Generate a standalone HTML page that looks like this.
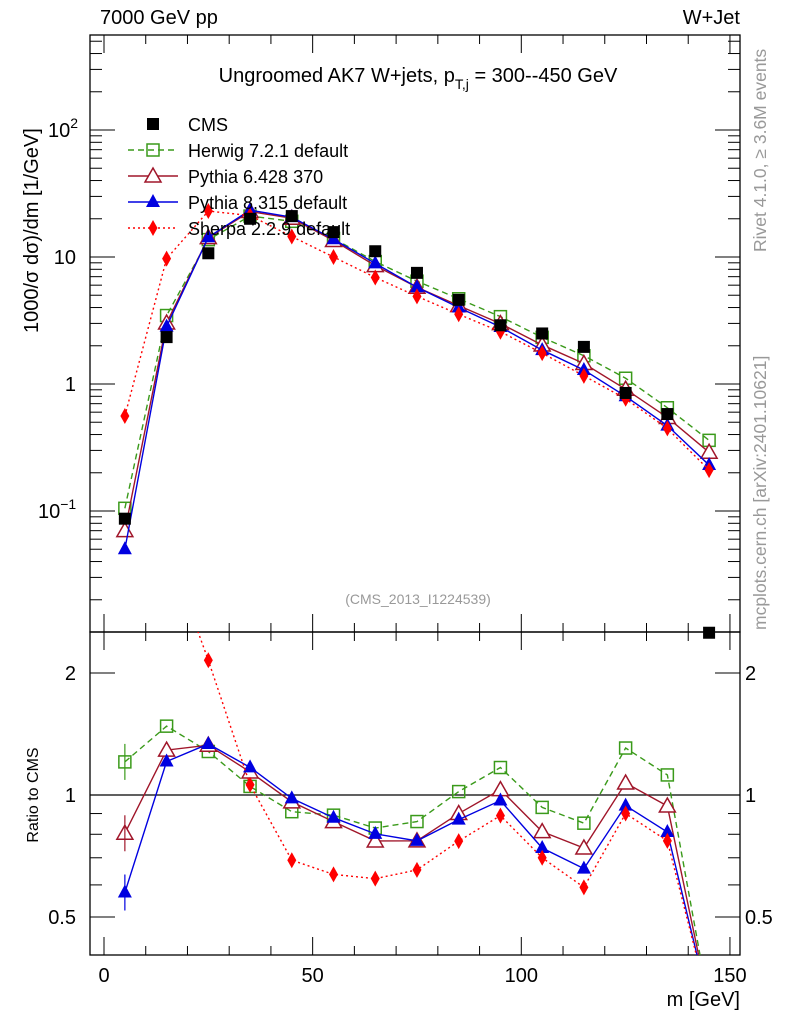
<!DOCTYPE html>
<html><head><meta charset="utf-8"><style>
body{margin:0;background:#fff;overflow:hidden;}
svg{display:block;font-family:"Liberation Sans",sans-serif;}
</style></head><body>
<svg id="c" width="786" height="1024" xmlns="http://www.w3.org/2000/svg"></svg>
<script>
const xBins=[5,15,25,35,45,55,65,75,85,95,105,115,125,135,145];
const cmsVals=[0.087,2.34,10.7,20,21,15.7,11.1,7.5,4.6,2.9,2.5,1.96,0.85,0.58,0.011];
const herwigVals=[0.105,3.46,13.7,21,19.1,14.0,9.2,6.45,4.69,3.39,2.33,1.67,1.11,0.65,0.36];
const py6Vals=[0.070,3.02,14.2,22.8,20.2,13.5,8.55,5.78,4.14,2.99,2.03,1.45,0.91,0.545,0.29];
const py8Vals=[0.050,2.83,14.3,23.4,20.6,13.8,8.9,5.78,4.0,2.81,1.85,1.29,0.80,0.47,0.23];
const sherpaVals=[0.56,9.7,23.0,21.2,14.5,10.0,6.9,4.9,3.54,2.58,1.75,1.16,0.765,0.447,0.21];
const xTicks=[0,50,100,150];
const mainTicks=[[100,"10","2"],[10,"10",""],[1,"1",""],[0.1,"10","−1"]];
const ratioTicks=[[2,"2"],[1,"1"],[0.5,"0.5"]];

const S=document.getElementById('c');const NS="http://www.w3.org/2000/svg";
function mk(tag,at,parent){const e=document.createElementNS(NS,tag);for(const k in at)e.setAttribute(k,at[k]);(parent||S).appendChild(e);return e;}
const L=90,R=740,T=35,M=632,B=955;
const X=v=>104+v*4.173;
const Y=v=>384-127*Math.log10(v);
const YR=r=>795-122*Math.log2(r);
function txt(x,y,s,size,anchor,fill,rot){const e=mk('text',{x:x,y:y,'font-size':size,'text-anchor':anchor||'start',fill:fill||'#000'});if(rot)e.setAttribute('transform',`rotate(-90 ${x} ${y})`);e.textContent=s;return e;}

let f1=mk('rect',{x:L,y:T,width:R-L,height:M-T,fill:'none',stroke:'#000','stroke-width':1.3});

let f2=mk('rect',{x:L,y:M,width:R-L,height:B-M,fill:'none',stroke:'#000','stroke-width':1.3});

let defs=mk('defs',{});
let c1=mk('clipPath',{id:'cm'},defs);mk('rect',{x:L,y:T,width:R-L,height:M-T},c1);
let c2=mk('clipPath',{id:'cr'},defs);mk('rect',{x:L,y:M,width:R-L,height:B-M},c2);

const tk=mk('g',{stroke:'#000','stroke-width':1});

for(let v=0;v<=150;v+=10){const x=X(v);const maj=v%50==0;const l=maj?18:9;
 mk('line',{x1:x,y1:T,x2:x,y2:T+l},tk);mk('line',{x1:x,y1:M,x2:x,y2:M-l},tk);
 mk('line',{x1:x,y1:M,x2:x,y2:M+l},tk);mk('line',{x1:x,y1:B,x2:x,y2:B-l},tk);}
xTicks.forEach(v=>{const t=txt(X(v),982,String(v),20,'middle');});
for(let d=-2;d<=2;d++)for(let m=1;m<=9;m++){const v=m*Math.pow(10,d);const y=Y(v);if(y<T||y>M)continue;const l=m==1?25:12;
 mk('line',{x1:L,y1:y,x2:L+l,y2:y},tk);mk('line',{x1:R,y1:y,x2:R-l,y2:y},tk);}
mainTicks.forEach(t=>{const y=Y(t[0]);const e=txt(76,y+7,t[1],20,'end');
 if(t[2]){const s=mk('tspan',{dy:-9,'font-size':14},e);s.textContent=t[2];
  e.setAttribute('text-anchor','start');e.setAttribute('x',t[2].length>1?38:48);}
 });
for(let d=-2;d<=1;d++)for(let m=1;m<=9;m++){const v=m*Math.pow(10,d);const y=YR(v);if(y<M||y>B)continue;const maj=(v==0.5||v==1||v==2);const l=maj?25:12;
 mk('line',{x1:L,y1:y,x2:L+l,y2:y},tk);mk('line',{x1:R,y1:y,x2:R-l,y2:y},tk);}
ratioTicks.forEach(t=>{const y=YR(t[0]);let a=txt(76,y+7,t[1],20,'end');
 let b=txt(745,y+7,t[1],20,'start');});
let rl=mk('line',{x1:L,y1:YR(1),x2:R,y2:YR(1),stroke:'#000','stroke-width':1.2});


const series=[
 {name:'herwig',vals:herwigVals,color:'#3a9a1a',dash:'6,4',marker:'osq'},
 {name:'pythia6',vals:py6Vals,color:'#a0162a',dash:'',marker:'otri'},
 {name:'pythia8',vals:py8Vals,color:'#0000e0',dash:'',marker:'tri'},
 {name:'sherpa',vals:sherpaVals,color:'#ff0000',dash:'2,3',marker:'dia'}];
function marker(g,type,x,y,c){
 if(type=='osq')return mk('rect',{x:x-6,y:y-6,width:12,height:12,fill:'none',stroke:c,'stroke-width':1.5},g);
 if(type=='sq')return mk('rect',{x:x-6,y:y-6,width:12,height:12,fill:c},g);
 if(type=='otri')return mk('path',{d:`M${x},${y-8}L${x+8},${y+6}L${x-8},${y+6}Z`,fill:'#fff',stroke:c,'stroke-width':1.5},g);
 if(type=='tri')return mk('path',{d:`M${x},${y-8}L${x+7},${y+5}L${x-7},${y+5}Z`,fill:c},g);
 if(type=='dia')return mk('path',{d:`M${x},${y-8}L${x+4.5},${y}L${x},${y+8}L${x-4.5},${y}Z`,fill:c},g);}
const gm=mk('g',{'clip-path':'url(#cm)'});
const gr=mk('g',{'clip-path':'url(#cr)'});
const mainMin=Math.pow(10,(384-M)/127);
series.forEach(s=>{
 const pts=xBins.map((x,i)=>[X(x),Y(s.vals[i])]);
 let p=mk('polyline',{points:pts.map(p=>p.join(',')).join(' '),fill:'none',stroke:s.color,'stroke-width':1.4,'stroke-dasharray':s.dash},gm);
 
 // CMS below visible range => ratio drawn off the bottom of the panel
 const rp=xBins.map((x,i)=>[X(x),cmsVals[i]<mainMin?B+50:YR(s.vals[i]/cmsVals[i])]);
 // clip polyline to panel
 const cl=[];for(let i=0;i<rp.length;i++){const a=rp[i];
  if(a[1]<=B&&a[1]>=M-400){cl.push(a);}else if(i>0){const b=rp[i-1];const f=(B-b[1])/(a[1]-b[1]);cl.push([b[0]+f*(a[0]-b[0]),B]);}}
 let q=mk('polyline',{points:cl.map(p=>p.join(',')).join(' '),fill:'none',stroke:s.color,'stroke-width':1.4,'stroke-dasharray':s.dash},gr);
 
 pts.forEach(p=>{let m=marker(gm,s.marker,p[0],p[1],s.color);});
 rp.forEach(p=>{if(p[1]>B||p[1]<M)return;let m=marker(gr,s.marker,p[0],p[1],s.color);});
 const e=rp[0];if(e[1]<B&&e[1]>M){let eb=mk('line',{x1:e[0],y1:e[1]-18,x2:e[0],y2:e[1]+18,stroke:s.color,'stroke-width':1.2},gr);
 }
});
xBins.forEach((x,i)=>{const out=Y(cmsVals[i])>M-3;let m=mk('rect',{x:X(x)-6,y:Math.min(Y(cmsVals[i]),M+1)-6,width:12,height:12,fill:'#000'},out?S:gm);
 });

let t;
t=txt(100,24,'7000 GeV pp',20);
t=txt(740,24,'W+Jet',20,'end');
t=txt(418,82,'Ungroomed AK7 W+jets, p',20,'middle');
let s1=mk('tspan',{dy:7,'font-size':14},t);s1.textContent='T,j';let s2=mk('tspan',{dy:-7},t);s2.textContent=' = 300--450 GeV';

t=txt(418,604,'(CMS_2013_I1224539)',14,'middle','#999');
t=txt(38,333,'1000/σ    dσ)/dm [1/GeV]',20,'start','#000',true);
t=txt(38,795,'Ratio to CMS',16,'middle','#000',true);
t=txt(740,1006,'m [GeV]',20,'end');
t=txt(766,252,'Rivet 4.1.0, ≥ 3.6M events',17.5,'start','#999',true);
t=txt(766,630,'mcplots.cern.ch [arXiv:2401.10621]',17.5,'start','#999',true);

const leg=[['CMS','#000','','sq'],['Herwig 7.2.1 default','#3a9a1a','6,4','osq'],['Pythia 6.428 370','#a0162a','','otri'],['Pythia 8.315 default','#0000e0','','tri'],['Sherpa 2.2.9 default','#ff0000','2,3','dia']];
leg.forEach((l,i)=>{const y=124+i*26;const g=mk('g',{});
 
 if(i>0)mk('line',{x1:128,y1:y,x2:178,y2:y,stroke:l[1],'stroke-width':1.4,'stroke-dasharray':l[2]},g);
 marker(g,l[3],153,y,l[1]);
 const tt=txt(188,y+7,l[0],18);g.appendChild(tt);});
</script>
</body></html>
